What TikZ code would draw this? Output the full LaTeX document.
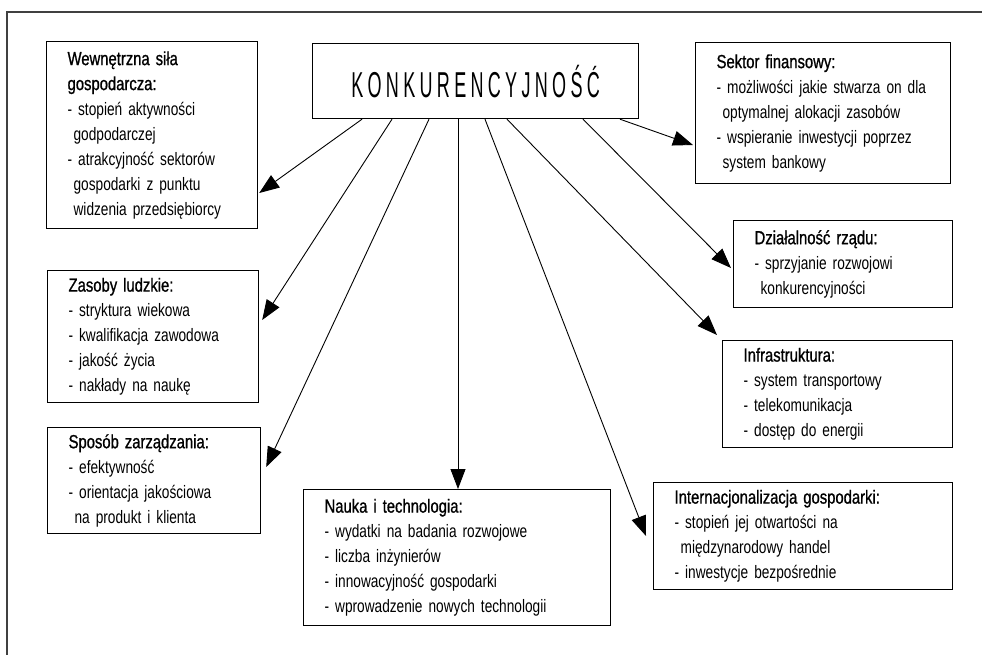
\documentclass[tikz,border=0pt]{standalone}
\usepackage{fontspec}
\setmainfont[FakeStretch=0.76]{Liberation Sans}
\newfontfamily\headfont[FakeStretch=0.78,FakeBold=0.9]{Liberation Sans}
\newfontfamily\konkfont[FakeStretch=0.5,LetterSpace=12]{Liberation Sans}
\usetikzlibrary{arrows.meta,calc}

\newcommand\hd[1]{{\fontsize{19}{25}\headfont #1}}
\newcommand\ind{\hspace*{6pt}}

\begin{document}
\begin{tikzpicture}[x=1pt,y=-1pt,>={Triangle[length=20pt,width=15pt]},
    box/.style={draw,line width=1.2pt,anchor=north west,align=left,inner xsep=21pt,inner ysep=0pt,
      font=\fontsize{18}{25}\selectfont},
    arr/.style={->,line width=0.9pt}]
  \useasboundingbox (0,0) rectangle (982,654);

  % frame
  \draw[line width=1.3pt,black!75] (7,700) -- (7,12) -- (1000,12);

  \node[draw,line width=1.2pt,anchor=north west,minimum width=326pt,minimum height=75pt,
    font=\fontsize{36}{40}\konkfont] (konk) at (312,43) {KONKURENCYJNOŚĆ};

  \node[box,minimum width=211pt,minimum height=187pt,text width=169pt] (wew) at (46,41)
    {\hd{Wewnętrzna siła\\ gospodarcza:}\\ - stopień aktywności\\ \ind godpodarczej\\
     - atrakcyjność sektorów\\ \ind gospodarki z punktu\\ \ind widzenia przedsiębiorcy};
  \node[box,minimum width=211pt,minimum height=132pt,text width=169pt] (zas) at (47,270)
    {\hd{Zasoby ludzkie:}\\ - stryktura wiekowa\\ - kwalifikacja zawodowa\\
     - jakość życia\\ - nakłady na naukę};
  \node[box,minimum width=213pt,minimum height=106pt,text width=171pt] (spo) at (47,427)
    {\hd{Sposób zarządzania:}\\ - efektywność\\ - orientacja jakościowa\\ \ind na produkt i klienta};
  \node[box,minimum width=307pt,minimum height=136pt,text width=265pt] (nau) at (303,489)
    {\hd{Nauka i technologia:}\\ - wydatki na badania rozwojowe\\ - liczba inżynierów\\
     - innowacyjność gospodarki\\ - wprowadzenie nowych technologii};
  \node[box,minimum width=255pt,minimum height=141pt,text width=213pt] (sek) at (695,42)
    {\hd{Sektor finansowy:}\\ - możliwości jakie stwarza on dla\\ \ind optymalnej alokacji zasobów\\
     - wspieranie inwestycji poprzez\\ \ind system bankowy};
  \node[box,minimum width=219pt,minimum height=87pt,text width=177pt] (dzi) at (733,220)
    {\hd{Działalność rządu:}\\ - sprzyjanie rozwojowi\\ \ind konkurencyjności};
  \node[box,minimum width=230pt,minimum height=107pt,text width=188pt] (inf) at (722,340)
    {\hd{Infrastruktura:}\\ - system transportowy\\ - telekomunikacja\\ - dostęp do energii};
  \node[box,minimum width=299pt,minimum height=107pt,text width=257pt] (int) at (653,482)
    {\hd{Internacjonalizacja gospodarki:}\\ - stopień jej otwartości na\\ \ind międzynarodowy handel\\
     - inwestycje bezpośrednie};

  \draw[arr] ($(konk.south west)+(50,0)$) -- ($(wew.north east)+(1,152)$);
  \draw[arr] ($(konk.south west)+(80,0)$) -- ($(zas.north east)+(3,50)$);
  \draw[arr] ($(konk.south west)+(117,0)$) -- ($(spo.north east)+(5,40)$);
  \draw[arr] ($(konk.south west)+(146,0)$) -- ($(nau.north west)+(155,0)$);
  \draw[arr] ($(konk.south west)+(173,0)$) -- ($(int.north west)+(-7,54)$);
  \draw[arr] ($(konk.south west)+(195,0)$) -- ($(inf.north west)+(-5,-5)$);
  \draw[arr] ($(konk.south west)+(271,0)$) -- ($(dzi.north west)+(-2,48)$);
  \draw[arr] ($(konk.south west)+(308,0)$) -- ($(sek.north west)+(-2,103)$);
\end{tikzpicture}
\end{document}
